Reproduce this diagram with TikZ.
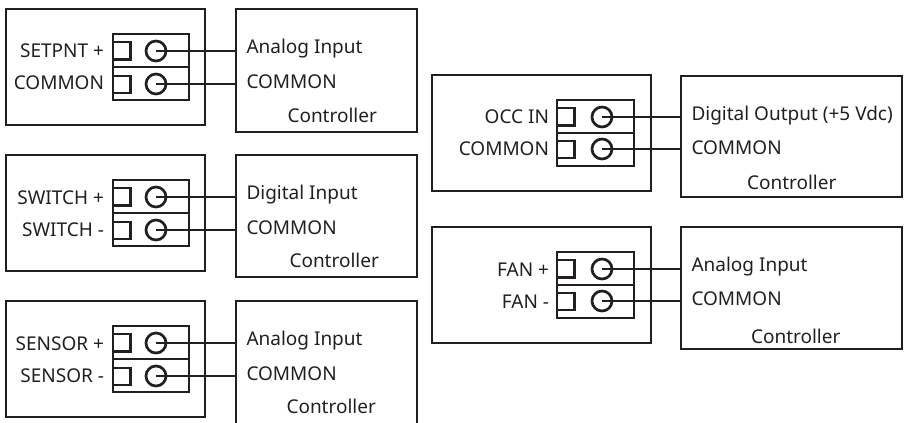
\documentclass[tikz,border=0pt]{standalone}
\usepackage{fontspec}
\setmainfont{Noto Sans}
\definecolor{ink}{HTML}{231F20}
\tikzset{
 boxn/.style={draw=ink,line width=2.7pt,inner sep=0pt,outer sep=0pt,rectangle},
 termn/.style={draw=ink,line width=2.7pt,inner sep=0pt,outer sep=0pt,rectangle},
 holen/.style={draw=ink,line width=2.7pt,inner sep=0pt,outer sep=0pt,circle,minimum size=20pt},
 wire/.style={draw=ink,line width=2.7pt},
 lbl/.style={text=ink,font=\fontsize{19pt}{21pt}\selectfont,inner sep=0pt,outer sep=0pt},
 rl/.style={lbl,anchor=base east},
 ll/.style={lbl,anchor=base west}
}
% name, x1, y1, x2, y2, style
\newcommand{\rbox}[6]{%
 \pgfmathsetmacro{\rw}{#4-#2}\pgfmathsetmacro{\rh}{#5-#3}%
 \pgfmathsetmacro{\rx}{(#4+#2)/2}\pgfmathsetmacro{\ry}{(#5+#3)/2}%
 \node[#6,minimum width=\rw pt,minimum height=\rh pt] (#1) at (\rx,\ry) {};}
\newcommand{\unit}[9]{%
 % #1 id, #2 boxX1, #3 boxX2, #4 top, #5 boxBot, #6 ctlX1, #7 ctlX2, #8 ctlTop, #9 ctlBot
 \rbox{#1box}{#2}{#4}{#3}{#5}{boxn}%
 \rbox{#1ctl}{#6}{#8}{#7}{#9}{boxn}}
% id, termX1, termX2, termTop, mid, termBot, circX, sq1Top, sq2Top
\newcommand{\term}[9]{%
 \rbox{#1ta}{#2}{#4}{#3}{#5}{termn}%
 \rbox{#1tb}{#2}{#5}{#3}{#6}{termn}%
 \pgfmathsetmacro{\sqr}{#2+17.5}%
 \rbox{#1sa}{#2}{#8}{\sqr}{#8+17.5}{termn}%
 \rbox{#1sb}{#2}{#9}{\sqr}{#9+17}{termn}%
 \node[holen] (#1ha) at (#7,#8+9) {};%
 \node[holen] (#1hb) at (#7,#9+8) {};%
 \draw[wire] (#1ha.center) -- (#1ha.center -| #1ctl.west);%
 \draw[wire] (#1hb.center) -- (#1hb.center -| #1ctl.west);}
\begin{document}
\begin{tikzpicture}[x=1pt,y=-1pt]
\useasboundingbox (0,0) rectangle (911,423);
\clip (0,0) rectangle (911,423);
% left column
\unit{a}{6}{205}{9}{125}{236}{417}{9}{132}
\term{a}{113}{189}{34}{67}{100}{156}{42}{76}
\unit{b}{6}{205}{155}{271}{236}{417}{155}{277}
\term{b}{113}{189}{180}{213}{246}{156}{188}{222}
\unit{c}{6}{205}{301}{417}{236}{417}{301}{440}
\term{c}{113}{189}{326}{359}{392}{156}{334}{368}
% right column
\unit{d}{432}{651}{75}{191}{681}{902}{76}{197}
\term{d}{557}{634}{100}{133}{166}{602}{108}{141}
\unit{e}{432}{651}{227}{343}{681}{902}{227}{349}
\term{e}{557}{634}{252}{285}{318}{602}{260}{293}
% labels
\node[rl] (l1) at (104,57) {SETPNT +};
\node[rl] (l2) at (104,89) {COMMON};
\node[ll] (l3) at (246.5,53) {Analog Input};
\node[ll] (l4) at (246.5,88) {COMMON};
\node[ll] (l5) at (287.5,122.5) {Controller};
\node[rl] (l6) at (104,204) {SWITCH +};
\node[rl] (l7) at (104,236) {SWITCH -};
\node[ll] (l8) at (246.5,199) {Digital Input};
\node[ll] (l9) at (246.5,234) {COMMON};
\node[ll] (l10) at (289.5,267) {Controller};
\node[rl] (l11) at (104,350) {SENSOR +};
\node[rl] (l12) at (104,382) {SENSOR -};
\node[ll] (l13) at (246.5,345) {Analog Input};
\node[ll] (l14) at (246.5,380) {COMMON};
\node[ll] (l15) at (286.5,413) {Controller};
\node[rl] (l16) at (549,123) {OCC IN};
\node[rl] (l17) at (549,155) {COMMON};
\node[ll] (l18) at (691.5,120) {Digital Output (+5 Vdc)};
\node[ll] (l19) at (691.5,154) {COMMON};
\node[ll] (l20) at (747,189) {Controller};
\node[rl] (l21) at (549,276) {FAN +};
\node[rl] (l22) at (549,308) {FAN -};
\node[ll] (l23) at (691.5,271) {Analog Input};
\node[ll] (l24) at (691.5,305) {COMMON};
\node[ll] (l25) at (751,343) {Controller};
\end{tikzpicture}
\end{document}
